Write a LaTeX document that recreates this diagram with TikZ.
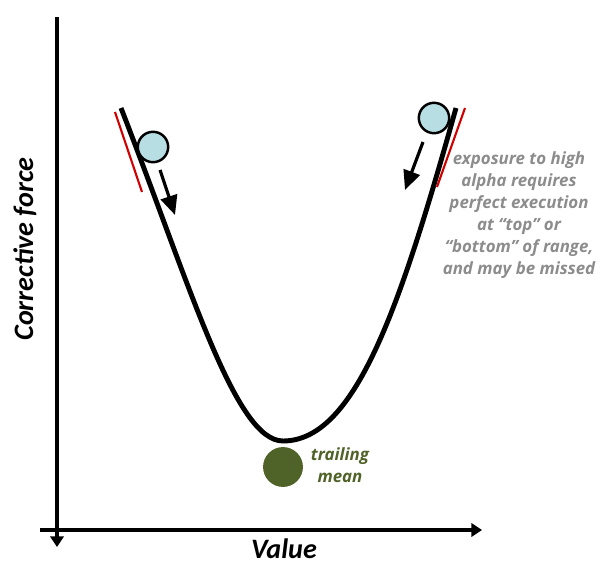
\documentclass[tikz,border=0pt]{standalone}
\usepackage{fontspec}
\setmainfont{Carlito}
\newfontfamily\notefont{Open Sans}
\usetikzlibrary{positioning,arrows.meta}
\definecolor{ball}{HTML}{B7DEE3}
\definecolor{edge}{HTML}{D00000}
\definecolor{mean}{HTML}{4F6228}
\definecolor{note}{HTML}{8C8C8C}

\begin{document}
\begin{tikzpicture}[x=0.02cm,y=-0.02cm,font=\bfseries\itshape]
    \tikzstyle{axis}=[line width=2pt,-{Triangle[length=6pt,width=7.5pt]}]
    \tikzstyle{ball}=[circle,draw,line width=1.4pt,fill=ball,minimum size=17.3pt,inner sep=0pt]
    \tikzstyle{push}=[line width=1.8pt,-{Triangle[length=11pt,width=9.6pt]}]
    \tikzstyle{edge}=[draw=edge,line width=1.2pt]
    \tikzstyle{label}=[font=\bfseries\itshape\fontsize{16}{19}\selectfont]
    \tikzstyle{note}=[font=\notefont\bfseries\itshape\fontsize{9.6}{12.5}\selectfont,align=center]
    \useasboundingbox (0,0) rectangle (603,564);

    % Axes
    \coordinate (top) at (57,17);
    \coordinate (bottom) at (57,547);
    \coordinate (left) at (40,530);
    \coordinate (right) at (482,530);
    \draw[axis] (top) -- (bottom);
    \draw[axis] (left) -- (right);
    \node[label,rotate=90] (force) at (25,249) {Corrective force};
    \node[label] (value) at (284,549) {Value};

    % Curve
    \coordinate (lefttop) at (121,108);
    \coordinate (low) at (283,441);
    \coordinate (righttop) at (456,108);
    \draw[line width=2.8pt] (lefttop) .. controls (190,285) and (235,441) .. (low)
        .. controls (355,441) and (400,308) .. (righttop);

    % Edges of the range
    \coordinate (leftedgea) at (115,112);
    \coordinate (leftedgeb) at (142,192);
    \coordinate (rightedgea) at (465,108);
    \coordinate (rightedgeb) at (437,187);
    \draw[edge] (leftedgea) -- (leftedgeb);
    \draw[edge] (rightedgea) -- (rightedgeb);

    % Balls
    \node[ball] (leftball) at (153,147) {};
    \node[ball] (rightball) at (434,118) {};
    \coordinate (leftpusha) at (160,170);
    \coordinate (leftpushb) at (175,215);
    \coordinate (rightpusha) at (423,142);
    \coordinate (rightpushb) at (405,190);
    \draw[push] (leftpusha) -- (leftpushb);
    \draw[push] (rightpusha) -- (rightpushb);

    % Mean
    \node[circle,fill=mean,minimum size=22.7pt,inner sep=0pt] (mean) at (283,467) {};
    \node[note,text=mean] (meanlabel) at (340,465) {trailing\\mean};

    \node[note,text=note] (alpha) at (519,215) {exposure to high\\alpha requires\\perfect execution\\at “top” or\\“bottom” of range,\\and may be missed};
\end{tikzpicture}
\end{document}
